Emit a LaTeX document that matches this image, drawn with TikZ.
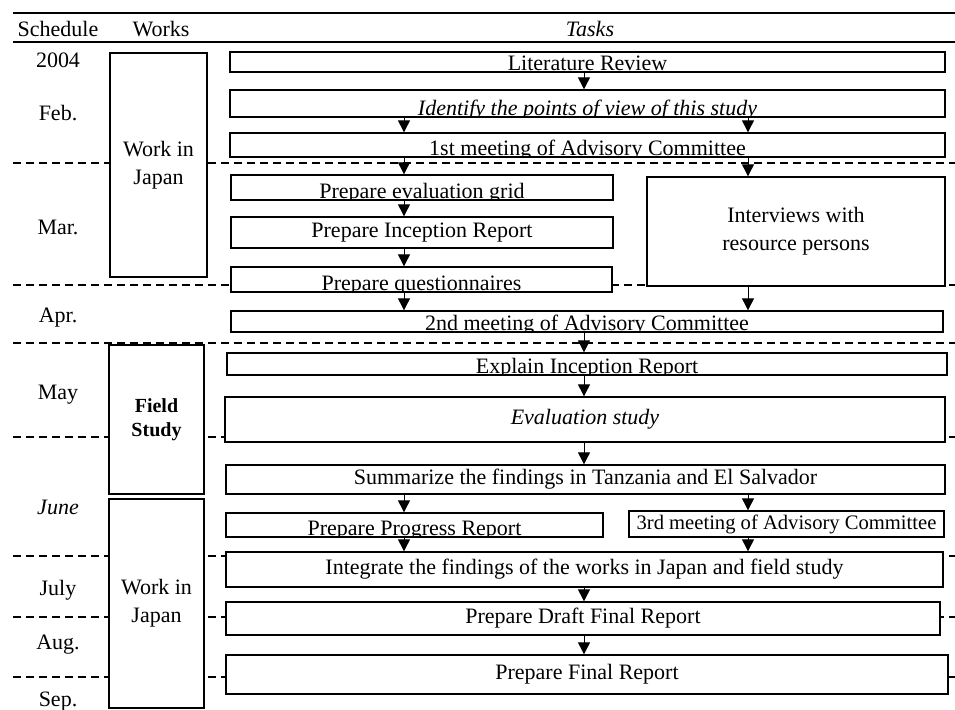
\documentclass[tikz,border=0pt]{standalone}
\usepackage{fontspec}
\setmainfont{Liberation Serif}
\usetikzlibrary{arrows.meta,positioning}
\tikzset{
  tam/.style 2 args={minimum width=#1*0.5pt, minimum height=#2*0.5pt},
  caja/.style={draw, line width=0.65pt, fill=white, inner sep=0pt},
  cajab/.style={caja, path picture={\node[anchor=base, inner sep=0pt] at ([yshift=0.7pt]path picture bounding box.south) {#1};}},
  obra/.style={draw, line width=0.7pt, fill=white, inner sep=0pt, align=center},
  mes/.style={inner sep=1pt},
  fl/.style={-{Triangle[length=6pt,width=6pt]}, line width=0.5pt},
  corte/.style={dash pattern=on 4pt off 2.5pt, line width=0.6pt},
  regla/.style={line width=1pt},
}

\begin{document}
\begin{tikzpicture}[x=0.5pt,y=-0.5pt,font=\fontsize{11}{14}\selectfont]
  \useasboundingbox (0,0) rectangle (955,710);
  % month separators and rules
  \draw[corte] (13,163) -- (955,163);
  \draw[corte] (13,285) -- (955,285);
  \draw[corte] (13,343) -- (955,343);
  \draw[corte] (13,437) -- (955,437);
  \draw[corte] (13,556) -- (955,556);
  \draw[corte] (13,617) -- (955,617);
  \draw[corte] (13,677) -- (955,677);
  \draw[regla] (13,13) -- (955,13);
  \draw[regla] (13,42) -- (955,42);
  % headers
  \node (hsch) at (58,29) {Schedule};
  \node (hobr) at (161,29) {Works};
  \node (htar) at (590,29) {\textit{Tasks}};
  % schedule
  \node[mes] (m2004) at (58,60) {2004};
  \node[mes] (mfeb) at (58,113) {Feb.};
  \node[mes] (mmar) at (58,227) {Mar.};
  \node[mes] (mabr) at (58,318) {Apr.};
  \node[mes] (mmay) at (58,395) {May};
  \node[mes] (mjun) at (58,507) {\textit{June}};
  \node[mes] (mjul) at (58,590) {July};
  \node[mes] (mago) at (58,645) {Aug.};
  \node[mes] (msep) at (58,702) {Sep.};
  % works
  \node[obra, tam={97}{224}] (japon1) at (158.5,165) {Work in\\Japan};
  \node[obra, tam={95}{149}, font=\bfseries] (campo) at (156.5,419.5) {Field\\Study};
  \node[obra, tam={95}{209}] (japon2) at (156.5,603.5) {Work in\\Japan};
  % tasks
  \node[cajab={Literature Review}, tam={715}{20}] (lit) at (587.5,62) {};
  \node[cajab={\textit{Identify the points of view of this study}}, tam={715}{27}] (iden) at (587.5,103.5) {};
  \node[cajab={1st meeting of Advisory Committee}, tam={715}{24}] (reu1) at (587.5,145) {};
  \node[cajab={Prepare evaluation grid}, tam={382}{25}] (grilla) at (422,187.5) {};
  \node[caja, tam={382}{31}] (incep) at (422,232.5) {Prepare Inception Report};
  \node[cajab={Prepare questionnaires}, tam={381}{25}] (cuest) at (421.5,279.5) {};
  \node[caja, tam={298}{109}, align=center] (entrev) at (796,231.5) {Interviews with\\resource persons};
  \node[cajab={2nd meeting of Advisory Committee}, tam={712}{21}] (reu2) at (587,321.5) {};
  \node[cajab={Explain Inception Report}, tam={720}{22}] (expl) at (587,364) {};
  \node[caja, tam={720}{45}] (evalu) at (585,419.5) {\textit{Evaluation study}};
  \node[caja, tam={719}{29}] (resum) at (585.5,479.5) {Summarize the findings in Tanzania and El Salvador};
  \node[cajab={Prepare Progress Report}, tam={377}{24}] (progr) at (414.5,525) {};
  \node[caja, tam={315}{26}, font=\fontsize{10.3}{12}\selectfont] (reu3) at (786.5,524) {3rd meeting of Advisory Committee};
  \node[caja, tam={717}{35}] (integ) at (584.5,569.5) {Integrate the findings of the works in Japan and field study};
  \node[caja, tam={714}{33}] (borr) at (583,618.5) {Prepare Draft Final Report};
  \node[caja, tam={722}{39}] (final) at (587,674.5) {Prepare Final Report};
  % arrows
  \coordinate (xa) at (404,0);
  \coordinate (xb) at (584,0);
  \coordinate (xc) at (748,0);
  \draw[fl] (lit.south -| xb) -- (iden.north -| xb);
  \draw[fl] (iden.south -| xa) -- (reu1.north -| xa);
  \draw[fl] (iden.south -| xc) -- (reu1.north -| xc);
  \draw[fl] (reu1.south -| xa) -- (grilla.north -| xa);
  \draw[fl] (reu1.south -| xc) -- (entrev.north -| xc);
  \draw[fl] (grilla.south -| xa) -- (incep.north -| xa);
  \draw[fl] (incep.south -| xa) -- (cuest.north -| xa);
  \draw[fl] (cuest.south -| xa) -- (reu2.north -| xa);
  \draw[fl] (entrev.south -| xc) -- (reu2.north -| xc);
  \draw[fl] (reu2.south -| xb) -- (expl.north -| xb);
  \draw[fl] (expl.south -| xb) -- (evalu.north -| xb);
  \draw[fl] (evalu.south -| xb) -- (resum.north -| xb);
  \draw[fl] (resum.south -| xa) -- (progr.north -| xa);
  \draw[fl] (resum.south -| xc) -- (reu3.north -| xc);
  \draw[fl] (progr.south -| xa) -- (integ.north -| xa);
  \draw[fl] (reu3.south -| xc) -- (integ.north -| xc);
  \draw[fl] (integ.south -| xb) -- (borr.north -| xb);
  \draw[fl] (borr.south -| xb) -- (final.north -| xb);
\end{tikzpicture}
\end{document}
